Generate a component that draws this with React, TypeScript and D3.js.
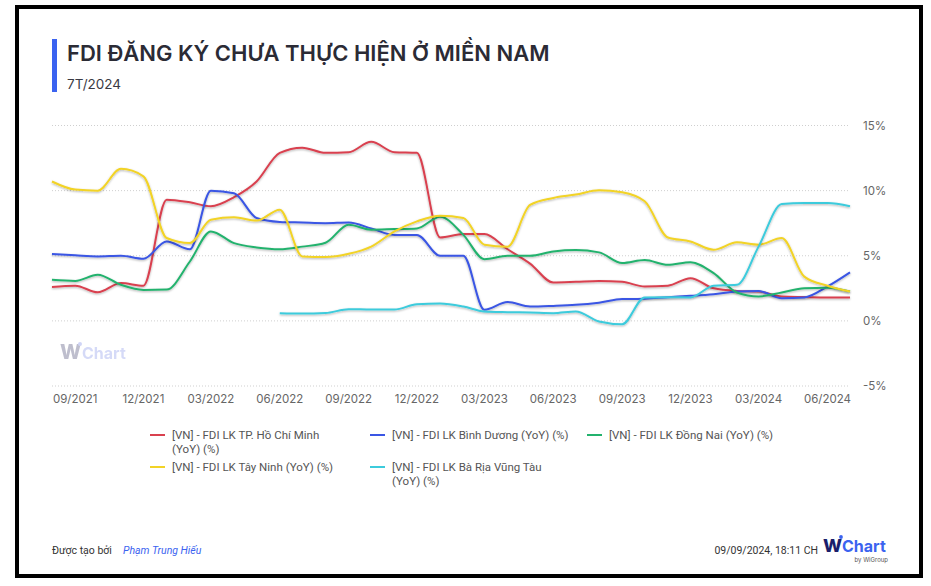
import React from "react";
import * as d3 from "d3";

const months: string[] = [
  "2021-08","2021-09","2021-10","2021-11","2021-12",
  "2022-01","2022-02","2022-03","2022-04","2022-05","2022-06","2022-07","2022-08","2022-09","2022-10","2022-11","2022-12",
  "2023-01","2023-02","2023-03","2023-04","2023-05","2023-06","2023-07","2023-08","2023-09","2023-10","2023-11","2023-12",
  "2024-01","2024-02","2024-03","2024-04","2024-05","2024-06","2024-07",
];

const hcm: (number | null)[] = [2.6,2.7,2.2,2.9,2.7,9.3,9.1,8.8,9.5,10.7,12.9,13.3,12.9,12.95,13.75,12.95,12.9,6.4,6.67,6.67,5.5,4.4,2.95,3.0,3.07,3.0,2.64,2.7,3.28,2.5,2.3,2.25,1.87,1.83,1.8,1.8];
const binhDuong: (number | null)[] = [5.13,5.03,4.95,5.0,4.77,6.1,5.5,10.0,9.8,7.9,7.6,7.55,7.5,7.55,7.1,6.6,6.6,5.0,5.0,0.85,1.44,1.1,1.15,1.23,1.4,1.67,1.7,1.82,1.92,2.05,2.25,2.3,1.74,1.8,2.64,3.72];
const dongNai: (number | null)[] = [3.15,3.07,3.54,2.77,2.38,2.4,4.56,6.87,5.97,5.64,5.5,5.7,6.0,7.38,7.0,7.05,7.1,8.0,6.6,4.74,5.0,5.0,5.33,5.44,5.26,4.44,4.67,4.3,4.5,3.67,2.18,1.87,2.18,2.5,2.55,2.25];
const tayNinh: (number | null)[] = [10.7,10.08,10.0,11.67,11.1,6.36,5.97,7.77,7.95,7.7,8.54,4.95,4.9,5.15,5.7,6.87,7.64,8.08,7.9,5.85,5.7,8.9,9.44,9.7,10.03,9.87,9.18,6.4,6.1,5.46,6.03,5.85,6.36,3.4,2.7,2.25];
const baRia: (number | null)[] = [null,null,null,null,null,null,null,null,null,null,0.59,0.56,0.6,0.9,0.87,0.87,1.28,1.33,1.1,0.72,0.67,0.64,0.59,0.72,-0.05,-0.26,1.8,1.82,1.8,2.7,2.77,5.7,8.97,9.05,9.05,8.8];

const seriesNames: string[] = [
  "[VN] - FDI LK TP. Hồ Chí Minh (YoY) (%)",
  "[VN] - FDI LK Bình Dương (YoY) (%)",
  "[VN] - FDI LK Đồng Nai (YoY) (%)",
  "[VN] - FDI LK Tây Ninh (YoY) (%)",
  "[VN] - FDI LK Bà Rịa Vũng Tàu (YoY) (%)",
];
const seriesColors: string[] = ["#d9414f", "#3a56e4", "#23b26d", "#f2d326", "#3ccbdc"];
const seriesData = [hcm, binhDuong, dongNai, tayNinh, baRia];

const yTicks: number[] = [-5, 0, 5, 10, 15];
const xTickMonths: string[] = ["2021-09","2021-12","2022-03","2022-06","2022-09","2022-12","2023-03","2023-06","2023-09","2023-12","2024-03","2024-06"];

const title = "FDI ĐĂNG KÝ CHƯA THỰC HIỆN Ở MIỀN NAM";
const subtitle = "7T/2024";

const parse = d3.timeParse("%Y-%m");
const fmt = d3.timeFormat("%m/%Y");

export default function App() {
  const W = 931, H = 586;
  const dates = months.map((m) => parse(m) as Date);
  const x = d3.scaleTime().domain([dates[0], dates[dates.length - 1]]).range([52, 850]);
  const y = d3.scaleLinear().domain([-5, 15]).range([386, 125.5]);
  const line = d3
    .line<[Date, number | null]>()
    .defined((d) => d[1] !== null)
    .x((d) => x(d[0]))
    .y((d) => y(d[1] as number))
    .curve(d3.curveMonotoneX);

  const font = "Inter, 'Noto Sans', sans-serif";
  const font2 = "Roboto, 'Noto Sans', sans-serif";
  const legendPos = [
    { x: 150, y: 435, lines: ["[VN] - FDI LK TP. Hồ Chí Minh", "(YoY) (%)"] },
    { x: 370, y: 435, lines: [seriesNames[1]] },
    { x: 587, y: 435, lines: [seriesNames[2]] },
    { x: 150, y: 467, lines: [seriesNames[3]] },
    { x: 370, y: 467, lines: ["[VN] - FDI LK Bà Rịa Vũng Tàu", "(YoY) (%)"] },
  ];

  return (
    <svg width={W} height={H} style={{ position: "absolute", left: 0, top: 0, fontFamily: font }}>
      <defs>
        <filter id="sh" x="-5%" y="-5%" width="110%" height="120%">
          <feDropShadow dx="0" dy="1" stdDeviation="0.8" floodColor="#000" floodOpacity="0.3" />
        </filter>
      </defs>
      <rect x={0} y={0} width={W} height={H} fill="#fff" />
      <rect x={17} y={7} width={904} height={569} fill="#fff" stroke="#000" strokeWidth={4} />
      <rect x={52} y={39} width={5} height={53} fill="#3b63f0" />
      <text x={67} y={61} fontSize={22} fontWeight={600} fill="#2b2b35">{title}</text>
      <text x={67} y={89} fontSize={13.5} fill="#3a3a44">{subtitle}</text>

      {yTicks.map((t) => (
        <g key={t}>
          <line x1={52} x2={850} y1={y(t)} y2={y(t)} stroke="#cfcfcf" strokeWidth={1} strokeDasharray="1,2" />
          <text x={863} y={y(t) + 4} fontSize={11.5} fill="#666">{t}%</text>
        </g>
      ))}
      {xTickMonths.map((m) => {
        const d = parse(m) as Date;
        return (
          <text key={m} x={x(d)} y={403} fontSize={11.5} fill="#666" textAnchor="middle">{fmt(d)}</text>
        );
      })}

      <g opacity={0.55}>
        <text x={60} y={359} fontSize={20} fontWeight={800} fill="#8a8aa6">W</text>
        <circle cx={80} cy={344} r={2} fill="#aab3f0" />
        <text x={82} y={359} fontSize={16} fontWeight={700} fill="#b3bcf2">Chart</text>
      </g>

      {seriesData.map((s, i) => (
        <path
          key={i}
          d={line(dates.map((d, j) => [d, s[j]]) as [Date, number | null][]) || ""}
          fill="none"
          stroke={seriesColors[i]}
          strokeWidth={2}
          filter="url(#sh)"
        />
      ))}

      <g style={{ fontFamily: font2 }}>
        {legendPos.map((p, i) => (
          <g key={i}>
            <line x1={p.x} x2={p.x + 15} y1={p.y} y2={p.y} stroke={seriesColors[i]} strokeWidth={2} />
            {p.lines.map((l, k) => (
              <text key={k} x={p.x + 22} y={p.y + 4 + k * 14} fontSize={11.5} fill="#555">{l}</text>
            ))}
          </g>
        ))}

        <text x={52} y={554} fontSize={10.5} fill="#333">Được tạo bởi</text>
        <text x={123} y={554} fontSize={10.5} fill="#3b63f0" fontStyle="italic">Phạm Trung Hiếu</text>
        <text x={818} y={554} fontSize={10.5} fill="#333" textAnchor="end">09/09/2024, 18:11 CH</text>
      </g>
      <text x={823} y={552} fontSize={18} fontWeight={800} fill="#1b1f6b">W</text>
      <circle cx={841} cy={537} r={1.9} fill="#3b63f0" />
      <text x={842} y={552} fontSize={16} fontWeight={700} fill="#3b63f0">Chart</text>
      <text x={888} y={562} fontSize={6} fill="#555" textAnchor="end">by WiGroup</text>
    </svg>
  );
}
